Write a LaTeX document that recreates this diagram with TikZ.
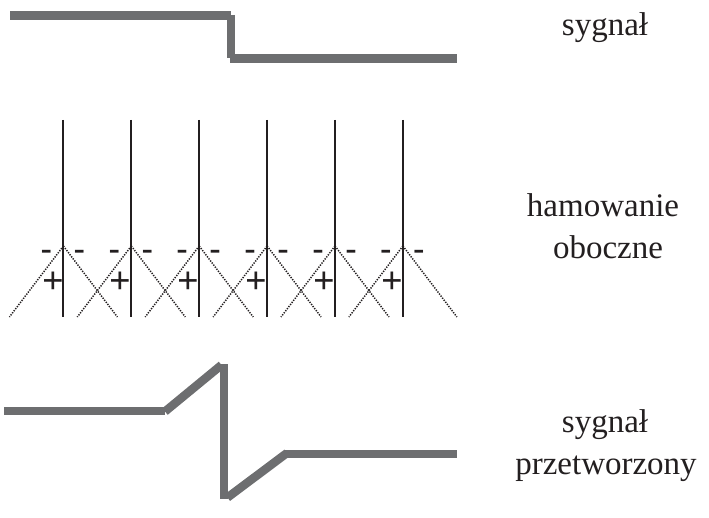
\documentclass[tikz,border=0pt]{standalone}
\usepackage{fontspec}
\setmainfont{Liberation Serif}
\definecolor{sig}{RGB}{109,110,112}
\definecolor{ink}{RGB}{35,31,32}
\begin{document}
\begin{tikzpicture}[x=1pt,y=-1pt,
  sigline/.style={draw=sig,line width=8.5pt,line cap=butt},
  cell/.style={draw=ink,line width=1.9pt},
  spread/.style={draw=ink,line width=1.5pt,dash pattern=on 1.3pt off 1.3pt},
  lbl/.style={anchor=base,inner sep=0pt,text=ink,font=\fontsize{33}{42}\selectfont},
  sign/.style={lbl,font=\fontsize{33}{42}\selectfont\bfseries},
  plus/.style={lbl,font=\fontsize{38}{42}\selectfont}]
\useasboundingbox (0,0) rectangle (709,518);
% input signal
\coordinate (a1) at (10,15.3);
\coordinate (a2) at (230.7,15.3);
\coordinate (a3) at (231,15);
\coordinate (a4) at (231,58.5);
\coordinate (a5) at (230,58.5);
\coordinate (a6) at (457,58.5);
\draw[sigline] (a1) -- (a2);
\draw[sigline] (a3) -- (a4);
\draw[sigline] (a5) -- (a6);
% processed signal
\coordinate (b1) at (4,411);
\coordinate (b2) at (165,411);
\coordinate (b3) at (165,411.5);
\coordinate (b4) at (221.5,365);
\coordinate (b5) at (224,364);
\coordinate (b6) at (224,499);
\coordinate (b7) at (227.5,497.5);
\coordinate (b8) at (287,453);
\coordinate (b9) at (285,454);
\coordinate (b10) at (457,454);
\draw[sigline] (b1) -- (b2);
\draw[sigline] (b3) -- (b4);
\draw[sigline] (b5) -- (b6);
\draw[sigline] (b7) -- (b8);
\draw[sigline] (b9) -- (b10);
% lateral inhibition
\foreach \i in {0,...,5}{
  \pgfmathsetmacro\x{63.4+67.9*\i}
  \coordinate (top\i) at (\x,120);
  \coordinate (bot\i) at (\x,317);
  \coordinate (apex\i) at (\x,246);
  \coordinate (dl\i) at (\x-54,317);
  \coordinate (dr\i) at (\x+54,317);
  \draw[spread] (apex\i) -- (dl\i);
  \draw[spread] (apex\i) -- (dr\i);
  \draw[cell] (top\i) -- (bot\i);
  \node[sign] (ml\i) at (\x-17,260) {-};
  \node[sign] (mr\i) at (\x+16,260) {-};
  \node[plus] (pl\i) at (\x-10.5,294) {\textbf{+}};
}
% labels
\node[lbl] (t1) at (605,36) {sygnał};
\node[lbl] (t2) at (603,216.7) {hamowanie};
\node[lbl] (t3) at (608,259) {oboczne};
\node[lbl] (t4) at (605,432) {sygnał};
\node[lbl] (t5) at (606,474) {przetworzony};
\end{tikzpicture}
\end{document}
